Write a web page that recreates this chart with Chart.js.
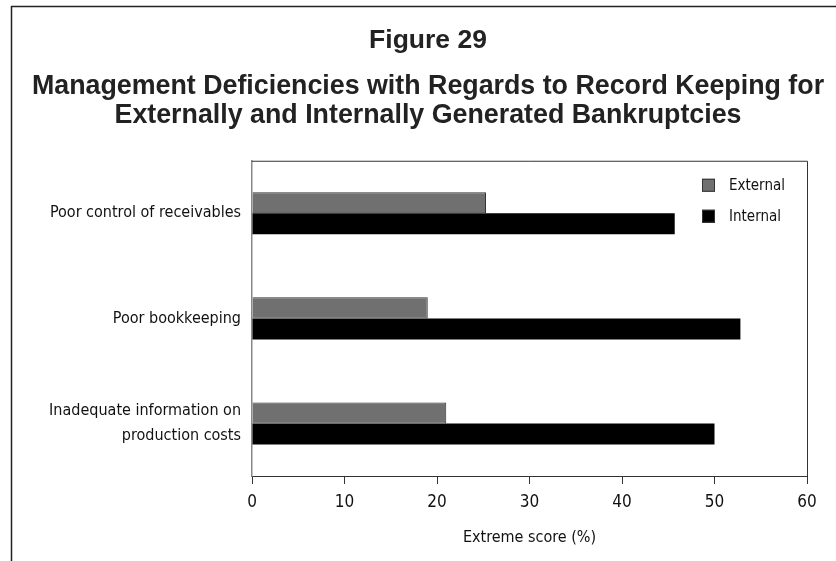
<!DOCTYPE html>
<html>
<head>
<meta charset="utf-8">
<script src="https://cdn.jsdelivr.net/npm/chart.js@4.4.0/dist/chart.umd.min.js"></script>
<style>
  body { margin: 0; background: #fff; }
  #wrap { width: 836px; height: 561px; position: relative; }
</style>
</head>
<body>
<div id="wrap"><canvas id="myChart"></canvas></div>
<script>
const categories = [
    'Poor control of receivables',
    'Poor bookkeeping',
    ['Inadequate information on', 'production costs']
];
const seriesNames = ['External', 'Internal'];
const externalValues = [25.3, 19.0, 21.0];
const internalValues = [45.7, 52.8, 50.0];
const xTicks = [0, 10, 20, 30, 40, 50, 60];

const narrow = "'DejaVu Sans Condensed', 'Liberation Sans', sans-serif";
const bold = "'Liberation Sans', Arial, sans-serif";

// frame lines + plot box top/right + legend inside plot
const decor = {
    id: 'decor',
    beforeDraw(chart) {
        const c = chart.ctx;
        c.save();
        c.strokeStyle = '#222';
        c.lineWidth = 1.5;
        c.beginPath();
        c.moveTo(11, 6.5);
        c.lineTo(chart.width, 6.5);
        c.moveTo(11.5, 6);
        c.lineTo(11.5, chart.height);
        c.stroke();
        c.restore();
    },
    afterDraw(chart) {
        const c = chart.ctx;
        const a = chart.chartArea;
        c.save();
        c.strokeStyle = '#333';
        c.lineWidth = 1;
        c.beginPath();
        c.moveTo(a.left, a.top + 0.5);
        c.lineTo(a.right + 0.5, a.top + 0.5);
        c.lineTo(a.right + 0.5, a.bottom);
        c.stroke();
        // legend
        c.font = '15px ' + narrow;
        c.textBaseline = 'middle';
        chart.data.datasets.forEach((ds, i) => {
            const bx = a.right - 105;
            const by = a.top + 18 + i * 31;
            c.fillStyle = ds.backgroundColor;
            c.fillRect(bx, by, 13, 13);
            c.strokeStyle = '#333';
            c.strokeRect(bx + 0.5, by + 0.5, 12, 12);
            c.fillStyle = '#111';
            c.fillText(ds.label, bx + 27, by + 7);
        });
        c.restore();
    }
};

const ctx = document.getElementById('myChart').getContext('2d');
const chart = new Chart(ctx, {
    type: 'bar',
    data: {
        labels: categories,
        datasets: [{
            label: seriesNames[0],
            data: externalValues,
            backgroundColor: '#707070',
            borderColor: '#333',
            borderWidth: 1,
            borderSkipped: 'left'
        }, {
            label: seriesNames[1],
            data: internalValues,
            backgroundColor: '#000000',
            borderWidth: 0
        }]
    },
    options: {
        indexAxis: 'y',
        responsive: true,
        maintainAspectRatio: false,
        animation: false,
        barPercentage: 1.0,
        categoryPercentage: 0.4,
        layout: { padding: { left: 20, right: 0, top: 0, bottom: 0 } },
        plugins: {
            legend: { display: false },
            tooltip: { enabled: false },
            title: {
                display: true,
                text: 'Figure 29',
                color: '#222',
                font: { family: bold, size: 26.5, weight: 'bold', lineHeight: 1.2 },
                padding: { top: 25, bottom: 15 }
            },
            subtitle: {
                display: true,
                text: [
                    'Management Deficiencies with Regards to Record Keeping for',
                    'Externally and Internally Generated Bankruptcies'
                ],
                color: '#222',
                font: { family: bold, size: 26.8, weight: 'bold', lineHeight: 1.1 },
                padding: { top: 0, bottom: 30 }
            }
        },
        scales: {
            x: {
                min: 0,
                max: 60,
                afterBuildTicks(scale) {
                    scale.ticks = xTicks.map(v => ({ value: v }));
                },
                afterFit(scale) { scale.height = 85; },
                border: { display: true, color: '#333', width: 1 },
                grid: { drawOnChartArea: false, drawTicks: true, tickLength: 8, color: '#333' },
                ticks: {
                    color: '#111',
                    padding: 8,
                    font: { family: narrow, size: 17 }
                },
                title: {
                    display: true,
                    text: 'Extreme score (%)',
                    color: '#111',
                    font: { family: narrow, size: 16 },
                    padding: { top: 4, bottom: 14 }
                }
            },
            y: {
                afterFit(scale) { scale.width = 232; },
                border: { display: true, color: '#888', width: 1.5 },
                grid: { display: false },
                ticks: {
                    color: '#111',
                    padding: 3,
                    font: { family: narrow, size: 16, lineHeight: 1.6 }
                }
            },
            // empty right-hand axis that only reserves the margin right of the plot
            yRight: {
                type: 'category',
                position: 'right',
                display: true,
                afterFit(scale) { scale.width = 29; },
                border: { display: false },
                grid: { display: false },
                ticks: { display: false }
            }
        }
    },
    plugins: [decor]
});
</script>
</body>
</html>
